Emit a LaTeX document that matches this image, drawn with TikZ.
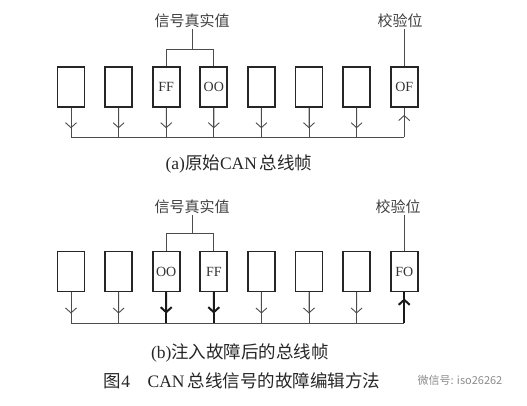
\documentclass[tikz,border=0pt]{standalone}
\usepackage{fontspec}
\setmainfont{Liberation Serif}
\newfontfamily\cjk{Noto Sans CJK SC}
\usepackage{xcolor}
\usepackage{tikz}
\usetikzlibrary{arrows.meta,positioning,calc}

\begin{document}
\begin{tikzpicture}[x=1pt,y=-1pt,
  frame/.style={draw=black!85,line width=1.9pt,minimum width=27pt,minimum height=40pt,
    inner sep=0pt,font=\fontsize{14}{14}\selectfont,text=black!80},
  wire/.style={draw=black!70,line width=0.9pt},
  heavy/.style={draw=black!90,line width=2pt},
  tip/.style={-{Straight Barb[length=5pt,width=11pt]}},
  tag/.style={font=\cjk\fontsize{15}{15}\selectfont,text=black!75,inner sep=1pt},
  caption/.style={font=\fontsize{17.5}{17.5}\selectfont,text=black!85},
  wmark/.style={font=\cjk\fontsize{11}{11}\selectfont,text=black!45}]
  \useasboundingbox (0,0) rectangle (527,406);

  \foreach \n/\w [count=\i] in {{}/wire,{}/wire,FF/wire,OO/wire,{}/wire,{}/wire,{}/wire,OF/wire} {
    \pgfmathsetmacro{\cx}{71+(\i-1)*47.6}
    \node[frame] (a\i) at (\cx,87) {\n};
    \coordinate (ab\i) at (\cx,137);
    \draw[wire] (a\i.south) -- (ab\i);
    \ifnum\i<8
      \draw[\w,tip] (a\i.south) -- ($(a\i.south)!0.7!(ab\i)$);
    \fi
  }
  \draw[wire,tip] (ab8) -- ($(a8.south)+(0,7)$);
  \draw[wire] (ab1) -- (ab8);
  \node[tag] (va) at (192,21) {信号真实值};
  \coordinate (ja) at (190,49);
  \draw[wire] (va.south) -- (va.south |- ja);
  \draw[wire] (a3.north) -- (a3.north |- ja) -- (a4.north |- ja) -- (a4.north);
  \node[tag] (ca) at (400,21) {校验位};
  \draw[wire] (ca.south -| a8.north) -- (a8.north);
  \node[caption] (capa) at (239,164) {(a){\cjk 原始}CAN\,{\cjk 总线帧}};

  \foreach \n/\w [count=\i] in {{}/wire,{}/wire,OO/heavy,FF/heavy,{}/wire,{}/wire,{}/wire,FO/heavy} {
    \pgfmathsetmacro{\cx}{71+(\i-1)*47.6}
    \node[frame] (b\i) at (\cx,271.5) {\n};
    \coordinate (bb\i) at (\cx,323);
    \draw[\w] (b\i.south) -- (bb\i);
    \ifnum\i<8
      \draw[\w,tip] (b\i.south) -- ($(b\i.south)!0.69!(bb\i)$);
    \fi
  }
  \draw[heavy,tip] (bb8) -- ($(b8.south)+(0,6)$);
  \draw[wire] (bb1) -- (bb8);
  \node[tag] (vb) at (192,207) {信号真实值};
  \coordinate (jb) at (190,233);
  \draw[wire] (vb.south) -- (vb.south |- jb);
  \draw[wire] (b3.north) -- (b3.north |- jb) -- (b4.north |- jb) -- (b4.north);
  \node[tag] (cb) at (398,207) {校验位};
  \draw[wire] (cb.south -| b8.north) -- (b8.north);
  \node[caption] (capb) at (240,353) {(b){\cjk 注入故障后的总线帧}};

  \node[caption] (fig) at (242,381)
    {{\cjk 图}4\quad CAN\,{\cjk 总线信号的故障编辑方法}};
  \node[wmark] (wm) at (460,380) {微信号: iso26262};
\end{tikzpicture}
\end{document}
